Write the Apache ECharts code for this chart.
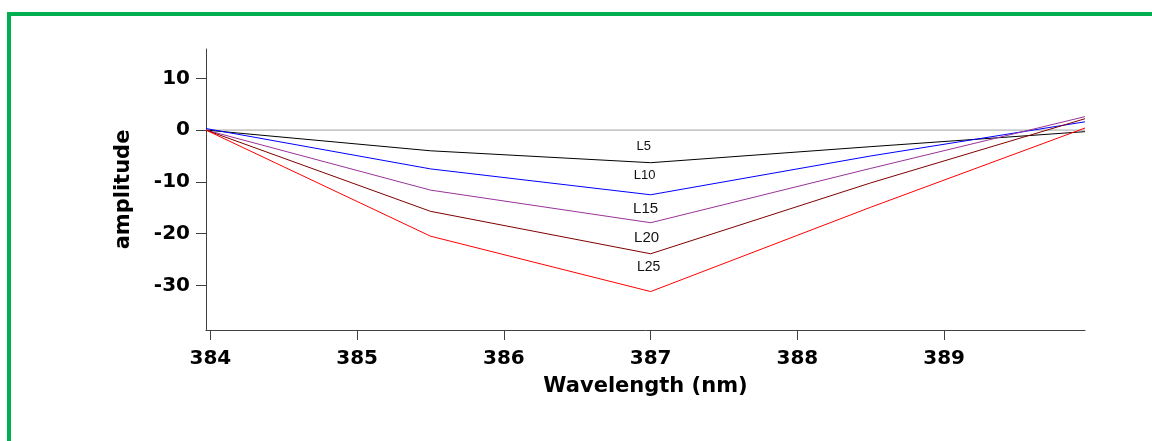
<!DOCTYPE html>
<html>
<head>
<meta charset="utf-8">
<script src="https://cdn.jsdelivr.net/npm/echarts@6/dist/echarts.min.js"></script>
<style>
  html, body { margin: 0; padding: 0; background: #fff; }
  #chart { position: absolute; left: 0; top: 0; width: 1152px; height: 441px; }
  #frame { position: absolute; left: 7px; top: 12px; width: 1145px; height: 429px;
           border-top: 4px solid #00b050; border-left: 4px solid #00b050; box-sizing: border-box; pointer-events: none; }
</style>
</head>
<body>
<div id="chart"></div>
<div id="frame"></div>
<script>
// ---- data ----
const wavelengths = [383.97, 385.5, 387, 388.5, 389.96];
const seriesNames = ['L5', 'L10', 'L15', 'L20', 'L25'];
const L0  = [0, 0, 0, 0, 0];
const L5  = [0, -4.0, -6.3, -3.2, -0.3];
const L10 = [0.3, -7.5, -12.5, -5.0, 1.6];
const L15 = [0, -11.6, -17.9, -7.4, 2.6];
const L20 = [0, -15.7, -23.9, -10.2, 2.2];
const L25 = [0, -20.5, -31.2, -14.9, 0.4];
const xTicks = [384, 385, 386, 387, 388, 389];
const yTicks = [-30, -20, -10, 0, 10];
const labelIndex = 2; // the point at 387 nm carries the series label

const values = [L5, L10, L15, L20, L25];
const colors = ['#000000', '#0000ff', '#993399', '#800000', '#ff0000'];
const labelOffsets = [[-7, -16], [-6, -19], [-5, -14], [-4, -16], [-2, -24]];
const labelSizes = [13, 13, 15, 15, 14];

function pairs(ys) { return ys.map((y, i) => [wavelengths[i], y]); }

const series = [{
  name: 'L0', type: 'line', data: pairs(L0), symbol: 'none',
  lineStyle: { color: '#a0a0a0', width: 1 }, silent: true, z: 1
}];
values.forEach((ys, s) => {
  const data = pairs(ys).map((p, i) => i === labelIndex ? {
    value: p,
    label: {
      show: true, position: 'inside', formatter: seriesNames[s],
      offset: labelOffsets[s], color: '#111', fontSize: labelSizes[s],
      fontFamily: 'Liberation Sans, Arial, sans-serif'
    }
  } : p);
  series.push({
    name: seriesNames[s], type: 'line', data: data,
    symbol: 'circle', symbolSize: 1, showSymbol: true,
    itemStyle: { color: 'rgba(0,0,0,0)' },
    lineStyle: { color: colors[s], width: 1 },
    label: { show: false }, z: 2 + s
  });
});

const chart = echarts.init(document.getElementById('chart'), null, { renderer: 'canvas' });
const axisFont = 'DejaVu Sans, Verdana, sans-serif';
chart.setOption({
  animation: false,
  backgroundColor: '#fff',
  grid: { left: 206, right: 67, top: 49, bottom: 111, containLabel: false },
  xAxis: {
    type: 'value', position: 'bottom', min: wavelengths[0], max: wavelengths[wavelengths.length - 1],
    name: 'Wavelength (nm)', nameLocation: 'middle', nameGap: 46,
    nameTextStyle: { fontFamily: axisFont, fontWeight: 'bold', fontSize: 21, color: '#000' },
    axisLine: { show: true, onZero: false, lineStyle: { color: '#404040', width: 1 } },
    axisTick: { show: true, inside: false, length: 10, customValues: xTicks, lineStyle: { color: '#404040' } },
    axisLabel: { customValues: xTicks, margin: 19, fontFamily: axisFont, fontWeight: 'bold', fontSize: 20, color: '#000' },
    splitLine: { show: false }
  },
  yAxis: {
    type: 'value', position: 'left', min: -38.63, max: 15.67,
    name: 'amplitude', nameLocation: 'middle', nameGap: 72, nameRotate: 90,
    nameTextStyle: { fontFamily: axisFont, fontWeight: 'bold', fontSize: 21, color: '#000' },
    axisLine: { show: true, onZero: false, lineStyle: { color: '#404040', width: 1 } },
    axisTick: { show: true, inside: false, length: 10, customValues: yTicks, lineStyle: { color: '#404040' } },
    axisLabel: { customValues: yTicks, margin: 16, fontFamily: axisFont, fontWeight: 'bold', fontSize: 20, color: '#000' },
    splitLine: { show: false }
  },
  series: series
});
</script>
</body>
</html>
